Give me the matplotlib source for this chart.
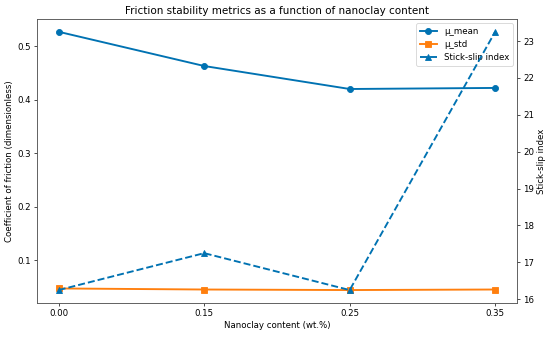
import matplotlib.pyplot as plt
import numpy as np

# nanoclay loading (wt.%) and measured friction metrics
nanoclay = ['0.00', '0.15', '0.25', '0.35']
mu_mean = [0.527, 0.463, 0.420, 0.422]
mu_std = [0.047, 0.045, 0.044, 0.045]
stick_slip = [16.25, 17.25, 16.25, 23.25]

blue = '#0072B2'
orange = '#FF7F0E'

fig = plt.figure(figsize=(550 / 62, 337 / 62), dpi=62)
ax = fig.add_subplot(111)
x = np.arange(len(nanoclay))

l1, = ax.plot(x, mu_mean, marker='o', color=blue, lw=2.2, markersize=7, label='μ_mean')
l2, = ax.plot(x, mu_std, marker='s', color=orange, lw=2.2, markersize=7, label='μ_std')
ax.set_xticks(x)
ax.set_xticklabels(nanoclay)
ax.set_xlabel('Nanoclay content (wt.%)')
ax.set_ylabel('Coefficient of friction (dimensionless)')
ax.set_yticks([0.1, 0.2, 0.3, 0.4, 0.5])

bx = ax.twinx()
l3, = bx.plot(x, stick_slip, marker='^', color=blue, lw=2.2, ls='--', markersize=7,
              label='Stick-slip index')
bx.set_ylabel('Stick-slip index')

ax.legend(handles=[l1, l2, l3], loc='upper right')
ax.set_title('Friction stability metrics as a function of nanoclay content')

for a in (ax, bx):
    for s in a.spines.values():
        s.set_color('#555555')

fig.subplots_adjust(left=0.067, right=0.94, top=0.944, bottom=0.101)
fig.savefig('out.png')
